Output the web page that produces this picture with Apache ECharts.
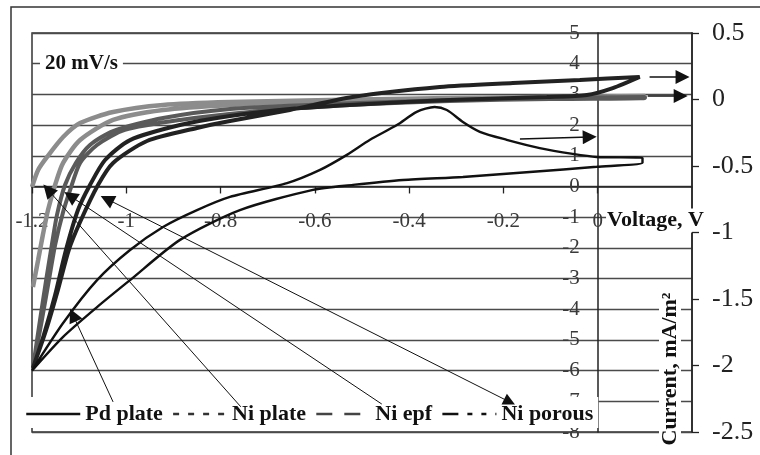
<!DOCTYPE html>
<html>
<head>
<meta charset="utf-8">
<script src="https://cdn.jsdelivr.net/npm/echarts@6/dist/echarts.min.js"></script>
<style>
  html, body { margin: 0; padding: 0; background: #fff; }
  #chart { width: 760px; height: 455px; }
</style>
</head>
<body>
<div id="chart"></div>
<script>
// Cyclic voltammograms at 20 mV/s: [voltage (V), current]
// Pd plate is read on the left current axis, the Ni electrodes on the right one.
const pdPlate = [
  [-1.2, -6.0], [-1.134, -4.45], [-1.062, -3.05], [-0.992, -2.07], [-0.922, -1.32],
  [-0.85, -0.77], [-0.78, -0.34], [-0.659, 0.11], [-0.589, 0.54], [-0.532, 1.03],
  [-0.483, 1.52], [-0.426, 2.0], [-0.384, 2.43], [-0.346, 2.59], [-0.32, 2.49],
  [-0.286, 2.1], [-0.25, 1.78], [-0.193, 1.52], [-0.123, 1.25], [-0.053, 1.06],
  [-0.002, 0.96], [0.095, 0.93],
  [0.095, 0.77], [-0.002, 0.64], [-0.144, 0.47], [-0.286, 0.31], [-0.413, 0.21],
  [-0.519, 0.05], [-0.604, -0.11], [-0.759, -0.77], [-0.886, -1.74], [-0.992, -3.05],
  [-1.062, -3.93], [-1.134, -4.9], [-1.2, -6.0]
];

const niPlate = [
  [-1.198, -1.41], [-1.187, -1.207], [-1.177, -1.019], [-1.166, -0.831], [-1.151, -0.643],
  [-1.134, -0.477], [-1.098, -0.305], [-1.028, -0.154], [-0.922, -0.079], [-0.78, -0.041],
  [-0.568, -0.011], [-0.314, 0.004], [-0.102, 0.011], [0.1, 0.019],
  [0.1, 0.026], [-0.102, 0.019], [-0.314, 0.011], [-0.568, -0.004], [-0.78, -0.019],
  [-0.922, -0.041], [-1.028, -0.094], [-1.098, -0.177], [-1.134, -0.282], [-1.168, -0.432],
  [-1.187, -0.53], [-1.2, -0.658]
];

const niEpf = [
  [-1.198, -2.019], [-1.183, -1.658], [-1.17, -1.357], [-1.158, -1.094], [-1.147, -0.868],
  [-1.13, -0.643], [-1.107, -0.477], [-1.077, -0.342], [-1.028, -0.237], [-0.922, -0.139],
  [-0.78, -0.071], [-0.568, -0.034], [-0.314, -0.004], [-0.102, 0.011], [0.1, 0.019],
  [0.1, 0.011], [-0.102, 0.004], [-0.314, -0.011], [-0.526, -0.041], [-0.738, -0.094],
  [-0.886, -0.154], [-1.003, -0.229], [-1.062, -0.342], [-1.098, -0.477], [-1.119, -0.68],
  [-1.134, -0.846], [-1.151, -1.094], [-1.164, -1.357], [-1.179, -1.658], [-1.198, -2.019]
];

const niPorous = [
  [-1.198, -2.019], [-1.17, -1.733], [-1.145, -1.432], [-1.122, -1.132], [-1.098, -0.921],
  [-1.06, -0.643], [-1.028, -0.477], [-0.956, -0.312], [-0.85, -0.214], [-0.78, -0.162],
  [-0.653, -0.079], [-0.52, 0.019], [-0.335, 0.094], [-0.18, 0.124], [-0.038, 0.147],
  [0.089, 0.169],
  [0.032, 0.086], [-0.023, 0.034], [-0.108, 0.019], [-0.314, -0.004], [-0.526, -0.041],
  [-0.653, -0.071], [-0.78, -0.124], [-0.886, -0.192], [-0.992, -0.305], [-1.045, -0.455],
  [-1.077, -0.643], [-1.1025, -0.831], [-1.128, -1.132], [-1.151, -1.47], [-1.175, -1.771],
  [-1.198, -2.019]
];

// Pointer arrows, in left-axis units: [from, to]
const curveArrows = [
  [[0.110, 3.57], [0.180, 3.57]],
  [[0.106, 2.95], [0.176, 2.95]],
  [[-0.165, 1.55], [-0.017, 1.61]]
];
const legendArrows = [
  [[-1.028, -7.02], [-1.113, -4.19]],   // Pd plate
  [[-0.757, -7.18], [-1.166, -0.11]],   // Ni plate
  [[-0.458, -7.09], [-1.119, -0.31]],   // Ni epf
  [[-0.187, -7.02], [-1.041, -0.41]]    // Ni porous
];

// Axis ranges
const voltageRange = { min: -1.2, max: 0.2, step: 0.2 };
const leftCurrentRange = { min: -8, max: 5, step: 1 };
const rightCurrentRange = { min: -2.5, max: 0.5, step: 0.5 };

// Plot box (px) and where the zero lines cross inside it
const plot = { left: 32, right: 68, top: 33, bottom: 23 };
const plotW = 760 - plot.left - plot.right;
const plotH = 455 - plot.top - plot.bottom;
const zeroX = plot.left + plotW * (0 - voltageRange.min) / (voltageRange.max - voltageRange.min);
const zeroY = plot.top + plotH * (leftCurrentRange.max - 0) / (leftCurrentRange.max - leftCurrentRange.min);

const SERIF = '"Liberation Serif", "Times New Roman", serif';

const chart = echarts.init(document.getElementById('chart'));

chart.setOption({
  animation: false,
  backgroundColor: '#fff',
  title: {
    text: '20 mV/s',
    left: 40,
    top: 53,
    padding: [0, 5],
    backgroundColor: '#fff',
    textStyle: { fontFamily: SERIF, fontSize: 21, fontWeight: 'bold', color: '#111', lineHeight: 22 }
  },
  legend: {
    left: 20,
    top: 397,
    padding: [6, 5, 3, 5],
    backgroundColor: '#fff',
    itemWidth: 54,
    itemHeight: 14,
    itemGap: 9,
    itemStyle: { opacity: 0 },
    textStyle: { fontFamily: SERIF, fontSize: 22, fontWeight: 'bold', color: '#111' },
    data: [
      { name: 'Pd plate', lineStyle: { type: 'solid', color: '#111', width: 2.5 } },
      { name: 'Ni plate', lineStyle: { type: [6, 9], color: '#333', width: 2.5 } },
      { name: 'Ni epf', lineStyle: { type: [16, 12], color: '#444', width: 2.5 } },
      { name: 'Ni porous', lineStyle: { type: [16, 9, 5, 9, 5, 9], color: '#111', width: 2.5 } }
    ]
  },
  grid: {
    left: plot.left, right: plot.right, top: plot.top, bottom: plot.bottom,
    outerBoundsMode: 'none', containLabel: false,
    show: true, borderColor: '#333', borderWidth: 1.5
  },
  xAxis: {
    type: 'value',
    position: 'bottom',
    offset: -(plot.top + plotH - zeroY),
    min: voltageRange.min, max: voltageRange.max, interval: voltageRange.step,
    name: '{t|Voltage, V}',
    nameLocation: 'end',
    nameGap: 13,
    nameMoveOverlap: false,
    nameTextStyle: {
      align: 'right', verticalAlign: 'top', padding: [22, 0, 0, 0],
      rich: { t: { fontFamily: SERIF, fontSize: 22, fontWeight: 'bold', color: '#111', backgroundColor: '#fff', padding: [1, 1] } }
    },
    axisLine: { onZero: false, lineStyle: { color: '#222', width: 1.5 } },
    axisTick: { show: true, length: 7, lineStyle: { color: '#222', width: 1.3 } },
    axisLabel: { margin: 25, fontFamily: SERIF, fontSize: 21, color: '#3a3a3a', showMaxLabel: false },
    splitLine: { show: false }
  },
  yAxis: [
    {
      type: 'value',
      position: 'left',
      offset: -(zeroX - plot.left),
      min: leftCurrentRange.min, max: leftCurrentRange.max, interval: leftCurrentRange.step,
      axisLine: { show: true, onZero: false, lineStyle: { color: '#222', width: 1.5 } },
      axisTick: { show: false },
      axisLabel: { margin: 18, fontFamily: SERIF, fontSize: 21, color: '#3a3a3a' },
      splitLine: { show: true, lineStyle: { color: '#4a4a4a', width: 1.3 } }
    },
    {
      type: 'value',
      position: 'right',
      min: rightCurrentRange.min, max: rightCurrentRange.max, interval: rightCurrentRange.step,
      axisLine: { show: true, onZero: false, lineStyle: { color: '#222', width: 1.5 } },
      axisTick: { show: true, length: 7, lineStyle: { color: '#222', width: 1.3 } },
      axisLabel: { margin: 20, fontFamily: SERIF, fontSize: 26, color: '#222' },
      splitLine: { show: false }
    }
  ],
  graphic: [
    {
      type: 'rect', silent: true, z: 0,
      shape: { x: 11, y: 7, width: 800, height: 500 },
      style: { fill: 'none', stroke: '#333', lineWidth: 1.5 }
    },
    {
      type: 'text', silent: true, z: 20,
      x: 670, y: 369, rotation: Math.PI / 2,
      style: {
        text: 'Current, mA/m\u00B2',
        font: 'bold 22px ' + SERIF,
        fill: '#111',
        align: 'center', verticalAlign: 'middle',
        backgroundColor: '#fff', padding: [0, 2]
      }
    }
  ],
  series: [
    {
      name: 'Pd plate', type: 'line', yAxisIndex: 0, data: pdPlate,
      symbol: 'none', smooth: 0.25, z: 4,
      lineStyle: { color: '#111', width: 2.4 }, itemStyle: { color: '#111' }
    },
    {
      name: 'Ni plate', type: 'line', yAxisIndex: 1, data: niPlate,
      symbol: 'none', smooth: 0.25, z: 3,
      lineStyle: { color: '#8c8c8c', width: 4.5 }, itemStyle: { color: '#8c8c8c' }
    },
    {
      name: 'Ni epf', type: 'line', yAxisIndex: 1, data: niEpf,
      symbol: 'none', smooth: 0.25, z: 3,
      lineStyle: { color: '#5a5a5a', width: 4 }, itemStyle: { color: '#5a5a5a' }
    },
    {
      name: 'Ni porous', type: 'line', yAxisIndex: 1, data: niPorous,
      symbol: 'none', smooth: 0.25, z: 3,
      lineStyle: { color: '#222', width: 4 }, itemStyle: { color: '#222' }
    },
    {
      type: 'lines', coordinateSystem: 'cartesian2d', xAxisIndex: 0, yAxisIndex: 0,
      silent: true, z: 10,
      symbol: ['none', 'triangle'], symbolSize: [12, 14],
      lineStyle: { color: '#111', width: 1.5, opacity: 1 },
      data: curveArrows.map(c => ({ coords: c }))
    },
    {
      type: 'lines', coordinateSystem: 'cartesian2d', xAxisIndex: 0, yAxisIndex: 0,
      silent: true, z: 10,
      symbol: ['none', 'triangle'], symbolSize: [12, 14],
      lineStyle: { color: '#111', width: 1, opacity: 1 },
      data: legendArrows.map((c, i) => i === 3
        ? { coords: c, symbol: ['triangle', 'triangle'] }
        : { coords: c })
    }
  ]
});
</script>
</body>
</html>
